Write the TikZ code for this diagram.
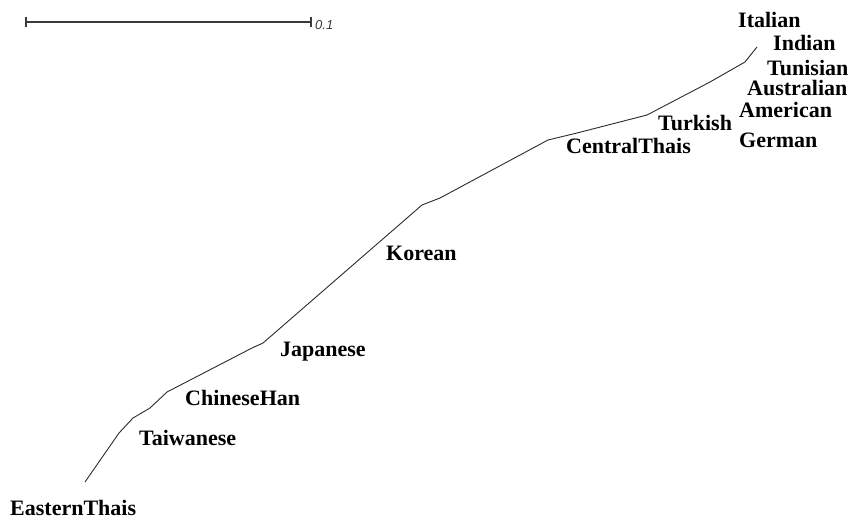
\documentclass[tikz,border=0pt]{standalone}
\usepackage{fontspec}
\setmainfont{Liberation Serif}
\newfontfamily\barfont{Liberation Sans}
\usepackage{tikz}
\usetikzlibrary{arrows.meta, positioning}
\usepackage{xcolor}
\definecolor{treegray}{HTML}{2B2B2B}
\definecolor{bargray}{HTML}{3A3A3A}

\begin{document}
\begin{tikzpicture}[
    x=1pt, y=-1pt,
    every node/.style={inner sep=0pt},
    taxon/.style={anchor=base west, font=\fontsize{22}{22}\selectfont\bfseries, text=black},
    branch/.style={draw=treegray, line width=0.9pt, line join=round},
    scalebar/.style={draw=bargray, line width=1.6pt, {Bar[width=10pt]}-{Bar[width=10pt]}},
    scalelabel/.style={font=\barfont\itshape\fontsize{13}{13}\selectfont, text=bargray}
]
    \useasboundingbox (0,0) rectangle (851,520);

    % scale bar
    \coordinate (sbl) at (25,22);
    \coordinate (sbr) at (312,22);
    \draw[scalebar] (sbl) -- (sbr);
    \node[scalelabel, right=3pt of sbr, yshift=-3pt] (sblab) {0.1};

    % branch points along the tree
    \coordinate (n0) at (85,482);
    \coordinate (n1) at (119,433);
    \coordinate (n2) at (133,418);
    \coordinate (n3) at (150,408);
    \coordinate (n4) at (167,392);
    \coordinate (n5) at (252,348);
    \coordinate (n6) at (263,343);
    \coordinate (n7) at (422,205);
    \coordinate (n8) at (440,198);
    \coordinate (n9) at (548,140);
    \coordinate (n10) at (577,133);
    \coordinate (n11) at (647,115);
    \coordinate (n12) at (710,82);
    \coordinate (n13) at (745,62);
    \coordinate (n14) at (757,47);

    \draw[branch] (n0) -- (n1) -- (n2) -- (n3) -- (n4) -- (n5) -- (n6) -- (n7)
        -- (n8) -- (n9) -- (n10) -- (n11) -- (n12) -- (n13) -- (n14);

    % taxa
    \node[taxon] (italian) at (738,27) {Italian};
    \node[taxon] (indian) at (773,50) {Indian};
    \node[taxon] (tunisian) at (767,75) {Tunisian};
    \node[taxon] (australian) at (747,95) {Australian};
    \node[taxon] (american) at (739,117) {American};
    \node[taxon] (turkish) at (658,130) {Turkish};
    \node[taxon] (german) at (739,147) {German};
    \node[taxon] (centralthais) at (566,153) {CentralThais};
    \node[taxon] (korean) at (386,260) {Korean};
    \node[taxon] (japanese) at (280,356) {Japanese};
    \node[taxon] (chinesehan) at (185,405) {ChineseHan};
    \node[taxon] (taiwanese) at (139,445) {Taiwanese};
    \node[taxon] (easternthais) at (10,515) {EasternThais};
\end{tikzpicture}
\end{document}
